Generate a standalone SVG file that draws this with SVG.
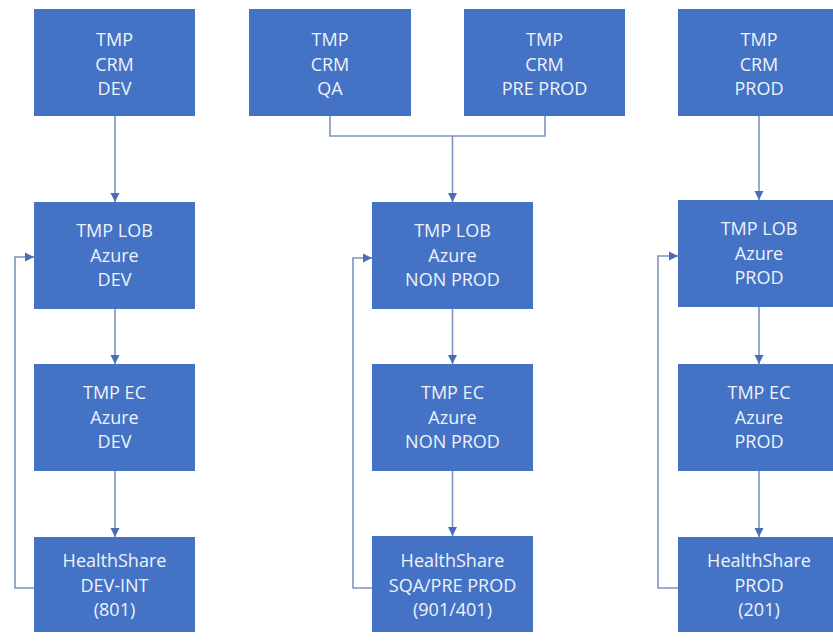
<svg xmlns="http://www.w3.org/2000/svg" width="833" height="643" viewBox="0 0 833 643">
<style>
.box{fill:#4472C4;}
.t{font-family:"Open Sans","Liberation Sans",sans-serif;font-size:18px;fill:#eef2fa;text-anchor:middle;}
.c{fill:none;stroke:#7e93c4;stroke-width:1.6;}
</style>
<defs>
<marker id="ah" markerUnits="userSpaceOnUse" markerWidth="10" markerHeight="10" refX="9" refY="5" orient="auto">
<path d="M0,0.5 L9,5 L0,9.5 Z" fill="#4a6db3"/>
</marker>
</defs>
<rect width="833" height="643" fill="#ffffff"/>
<g id="connectors">
<path class="c" d="M115,116 V202" marker-end="url(#ah)"/>
<path class="c" d="M115,309 V364" marker-end="url(#ah)"/>
<path class="c" d="M115,471 V537" marker-end="url(#ah)"/>
<path class="c" d="M34,588 H15 V257 H34" marker-end="url(#ah)"/>
<path class="c" d="M330,116 V136 H545 V116"/>
<path class="c" d="M452.5,136 V202" marker-end="url(#ah)"/>
<path class="c" d="M452.5,309 V364" marker-end="url(#ah)"/>
<path class="c" d="M452.5,471 V536" marker-end="url(#ah)"/>
<path class="c" d="M372,588 H353 V258 H372" marker-end="url(#ah)"/>
<path class="c" d="M759,116 V200" marker-end="url(#ah)"/>
<path class="c" d="M759,307 V364" marker-end="url(#ah)"/>
<path class="c" d="M759,471 V537" marker-end="url(#ah)"/>
<path class="c" d="M678,588 H658 V256 H678" marker-end="url(#ah)"/>
</g>
<g id="crm-dev"><rect class="box" x="34" y="9" width="161" height="107"/>
<text class="t" x="114.5"><tspan x="114.5" y="46">TMP</tspan><tspan x="114.5" y="70.5">CRM</tspan><tspan x="114.5" y="95">DEV</tspan></text></g>
<g id="crm-qa"><rect class="box" x="249" y="9" width="162" height="107"/>
<text class="t"><tspan x="330" y="46">TMP</tspan><tspan x="330" y="70.5">CRM</tspan><tspan x="330" y="95">QA</tspan></text></g>
<g id="crm-preprod"><rect class="box" x="464" y="9" width="161" height="107"/>
<text class="t"><tspan x="544.5" y="46">TMP</tspan><tspan x="544.5" y="70.5">CRM</tspan><tspan x="544.5" y="95">PRE PROD</tspan></text></g>
<g id="crm-prod"><rect class="box" x="678" y="9" width="162" height="107"/>
<text class="t"><tspan x="759" y="46">TMP</tspan><tspan x="759" y="70.5">CRM</tspan><tspan x="759" y="95">PROD</tspan></text></g>
<g id="lob-dev"><rect class="box" x="34" y="202" width="161" height="107"/>
<text class="t"><tspan x="114.5" y="237">TMP LOB</tspan><tspan x="114.5" y="261.5">Azure</tspan><tspan x="114.5" y="286">DEV</tspan></text></g>
<g id="lob-nonprod"><rect class="box" x="372" y="202" width="161" height="107"/>
<text class="t"><tspan x="452.5" y="237">TMP LOB</tspan><tspan x="452.5" y="261.5">Azure</tspan><tspan x="452.5" y="286">NON PROD</tspan></text></g>
<g id="lob-prod"><rect class="box" x="678" y="200" width="162" height="107"/>
<text class="t"><tspan x="759" y="235">TMP LOB</tspan><tspan x="759" y="259.5">Azure</tspan><tspan x="759" y="284">PROD</tspan></text></g>
<g id="ec-dev"><rect class="box" x="34" y="364" width="161" height="107"/>
<text class="t"><tspan x="114.5" y="399">TMP EC</tspan><tspan x="114.5" y="423.5">Azure</tspan><tspan x="114.5" y="448">DEV</tspan></text></g>
<g id="ec-nonprod"><rect class="box" x="372" y="364" width="161" height="107"/>
<text class="t"><tspan x="452.5" y="399">TMP EC</tspan><tspan x="452.5" y="423.5">Azure</tspan><tspan x="452.5" y="448">NON PROD</tspan></text></g>
<g id="ec-prod"><rect class="box" x="678" y="364" width="162" height="107"/>
<text class="t"><tspan x="759" y="399">TMP EC</tspan><tspan x="759" y="423.5">Azure</tspan><tspan x="759" y="448">PROD</tspan></text></g>
<g id="hs-dev"><rect class="box" x="34" y="537" width="161" height="95"/>
<text class="t"><tspan x="114.5" y="567">HealthShare</tspan><tspan x="114.5" y="591.5">DEV-INT</tspan><tspan x="114.5" y="616">(801)</tspan></text></g>
<g id="hs-nonprod"><rect class="box" x="372" y="536" width="161" height="96"/>
<text class="t"><tspan x="452.5" y="567">HealthShare</tspan><tspan x="452.5" y="591.5">SQA/PRE PROD</tspan><tspan x="452.5" y="616">(901/401)</tspan></text></g>
<g id="hs-prod"><rect class="box" x="678" y="537" width="162" height="95"/>
<text class="t"><tspan x="759" y="567">HealthShare</tspan><tspan x="759" y="591.5">PROD</tspan><tspan x="759" y="616">(201)</tspan></text></g>
</svg>
